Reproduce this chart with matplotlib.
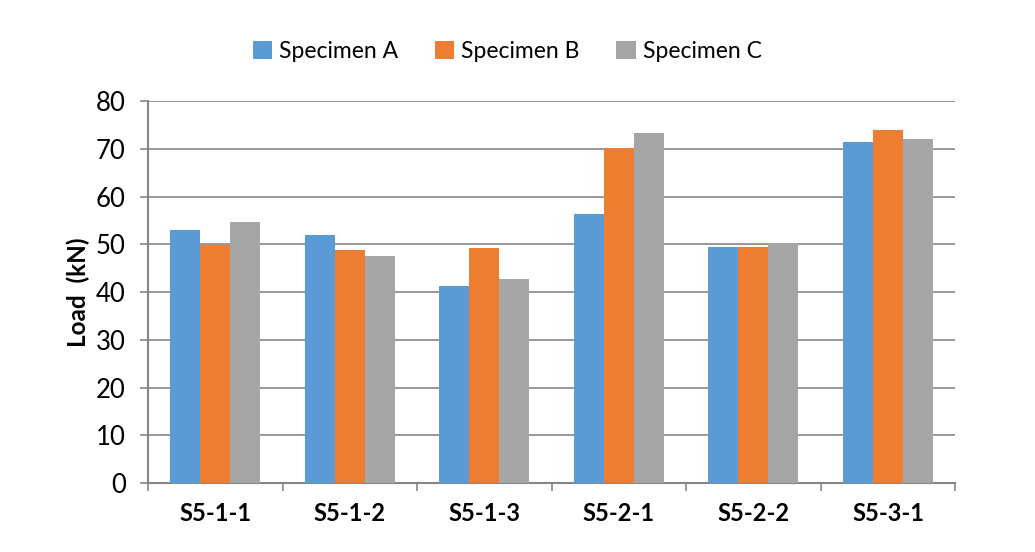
import numpy as np
import matplotlib.pyplot as plt

plt.rcParams['font.family'] = ['Lato', 'DejaVu Sans']

# data
categories = ['S5-1-1', 'S5-1-2', 'S5-1-3', 'S5-2-1', 'S5-2-2', 'S5-3-1']
specimen_a = [53.0, 51.9, 41.3, 56.3, 49.4, 71.5]
specimen_b = [49.8, 48.9, 49.3, 70.2, 49.4, 73.9]
specimen_c = [54.6, 47.6, 42.7, 73.2, 50.3, 72.1]
series_names = ['Specimen A', 'Specimen B', 'Specimen C']
colors = ['#5B9BD5', '#ED7D31', '#A5A5A5']

fig = plt.figure(figsize=(10.35, 5.52), dpi=100)
ax = fig.add_axes([0.143, 0.125, 0.780, 0.692])

x = np.arange(len(categories))
w = 0.223
for i, (vals, name) in enumerate(zip([specimen_a, specimen_b, specimen_c], series_names)):
    ax.bar(x + (i - 1) * w, vals, width=w, color=colors[i], label=name, zorder=3)

grid_col = '#868686'
ax.set_ylim(0, 80)
ax.set_yticks(range(0, 81, 10))
ax.set_xlim(-0.5, len(categories) - 0.5)
ax.set_xticks(x)
ax.set_xticklabels(categories, fontweight='bold', fontsize=17)
ax.set_xticks(np.arange(-0.5, len(categories), 1), minor=True)
ax.tick_params(axis='x', which='major', length=0, pad=14)
ax.tick_params(axis='x', which='minor', length=6, color=grid_col, width=1.2)
ax.tick_params(axis='y', length=6, color=grid_col, width=1.2, labelsize=18.5, pad=10)
ax.yaxis.grid(True, color=grid_col, linewidth=1.2, zorder=0)

for s in ['top', 'right']:
    ax.spines[s].set_visible(False)
for s in ['left', 'bottom']:
    ax.spines[s].set_color(grid_col)
    ax.spines[s].set_linewidth(1.5)

ax.set_ylabel('Load  (kN)', fontweight='bold', fontsize=17.5, labelpad=4)

fig.legend(loc='center', bbox_to_anchor=(0.49, 0.907), ncol=3, frameon=False,
           fontsize=16.5, handlelength=0.85, handleheight=0.85, handletextpad=0.3,
           columnspacing=1.6)

fig.savefig('out.png', dpi=100)
